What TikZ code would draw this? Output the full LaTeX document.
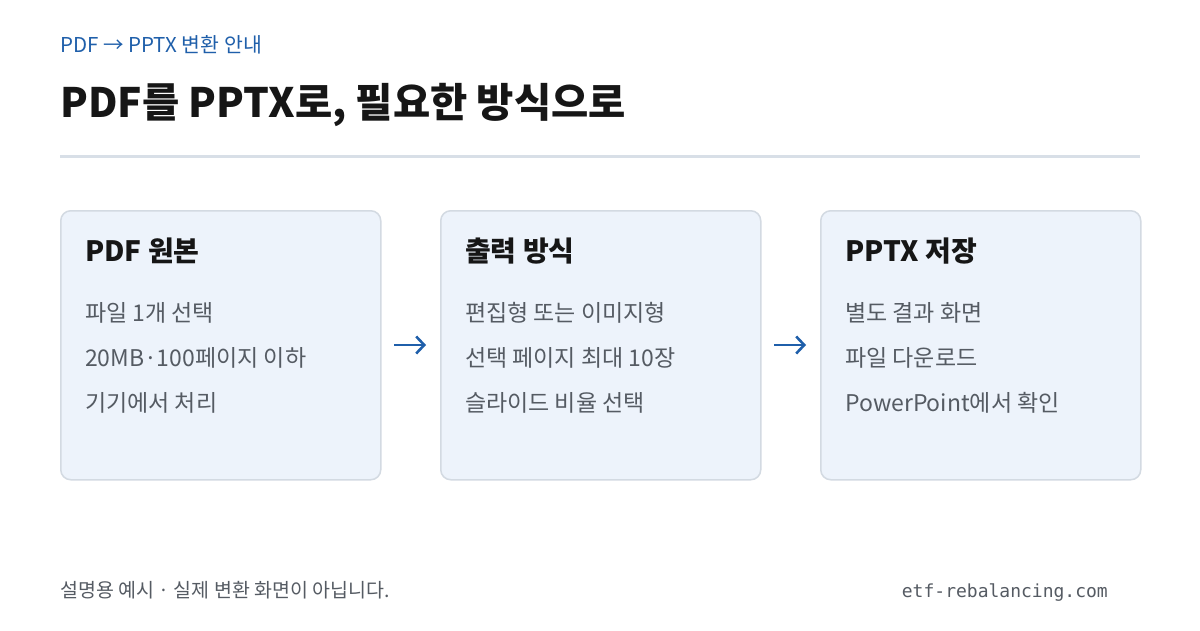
\documentclass[tikz,border=0pt]{standalone}
\usepackage{fontspec}
\setmainfont{Noto Sans CJK KR}
\newfontfamily\monof{DejaVu Sans Mono}
\usetikzlibrary{arrows.meta}
\definecolor{accent}{HTML}{1F5FAA}
\definecolor{boxfill}{HTML}{EDF3FB}
\definecolor{boxline}{HTML}{D3DAE2}
\definecolor{rulec}{HTML}{D8DFE7}
\definecolor{titlec}{HTML}{161616}
\definecolor{itemc}{HTML}{555B63}
\tikzset{
  card/.style={draw=boxline, fill=boxfill, line width=1.5pt, rounded corners=10pt},
  cardtitle/.style={anchor=base west, inner sep=0, font=\fontsize{28}{30}\selectfont\bfseries, text=titlec},
  item/.style={anchor=base west, inner sep=0, font=\fontsize{23}{25}\selectfont, text=itemc},
  flow/.style={draw=accent, line width=2.6pt, -{Straight Barb[length=8pt,width=17pt,line width=2.6pt]}},
}
\begin{document}
\begin{tikzpicture}[x=1pt,y=-1pt]
\useasboundingbox (0,0) rectangle (1200,630);
\fill[white] (0,0) rectangle (1200,630);
\node[anchor=base west, inner sep=0, font=\fontsize{20.5}{22}\selectfont, text=accent] (sub) at (60,52) {PDF → PPTX 변환 안내};
\node[anchor=base west, inner sep=0, font=\fontsize{40.5}{44}\selectfont\bfseries, text=titlec] (title) at (60,117) {PDF를 PPTX로, 필요한 방식으로};
\coordinate (rl) at (60,156);
\coordinate (rr) at (1140,156);
\draw[rulec, line width=3pt] (rl) -- (rr);

\foreach \i/\x/\t/\a/\b/\c in {1/60/PDF 원본/파일 1개 선택/20MB·100페이지 이하/기기에서 처리,
  2/440/출력 방식/편집형 또는 이미지형/선택 페이지 최대 10장/슬라이드 비율 선택,
  3/820/PPTX 저장/별도 결과 화면/파일 다운로드/PowerPoint에서 확인}{
  \node[card, minimum width=320pt, minimum height=269pt, anchor=north west, inner sep=0] (c\i) at (\x,210) {};
  \node[cardtitle] (t\i) at (\x+25,261) {\t};
  \node[item] (a\i) at (\x+25,321) {\a};
  \node[item] (b\i) at (\x+25,366) {\b};
  \node[item] (d\i) at (\x+25,411) {\c};
}
\coordinate (s1) at (394,345);
\coordinate (e1) at (426,345);
\coordinate (s2) at (774,345);
\coordinate (e2) at (806,345);
\draw[flow] (s1) -- (e1);
\draw[flow] (s2) -- (e2);

\node[anchor=base west, inner sep=0, font=\fontsize{19.5}{21}\selectfont, text=itemc] (foot) at (60,597) {설명용 예시 · 실제 변환 화면이 아닙니다.};
\node[anchor=base east, inner sep=0, font=\fontsize{18}{20}\selectfont\monof, text=itemc] (site) at (1108,597) {etf-rebalancing.com};
\end{tikzpicture}
\end{document}
